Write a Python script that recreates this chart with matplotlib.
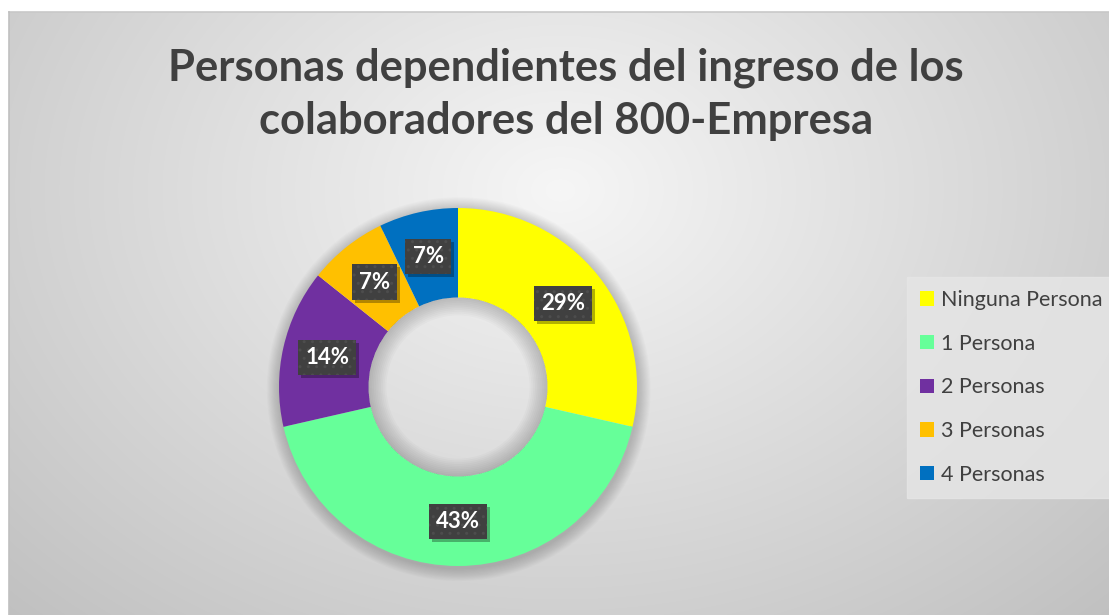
import numpy as np
import matplotlib
matplotlib.use("Agg")
import matplotlib.pyplot as plt
from matplotlib.patches import Wedge, Rectangle

# data
categorias = ["Ninguna Persona", "1 Persona", "2 Personas", "3 Personas", "4 Personas"]
personas = [4, 6, 2, 1, 1]
colores = ["#FFFF00", "#66FF99", "#7030A0", "#FFC000", "#0070C0"]
titulo = "Personas dependientes del ingreso de los\ncolaboradores del 800-Empresa"

W, H = 1109, 615
fig = plt.figure(figsize=(W / 100, H / 100), dpi=100)
fig.patch.set_facecolor("white")

# chart area with radial gray gradient
x0, y0 = 9, 12
bg = fig.add_axes([x0 / W, 0, 1 - x0 / W, 1 - y0 / H])
xx, yy = np.meshgrid(np.arange(x0, W), np.arange(y0, H))
d = np.sqrt(((xx - 560) / 560.0) ** 2 + ((yy - 190) / 420.0) ** 2)
v = (246 - 38 * d) / 255.0
img = np.dstack([v, v, v])
bg.imshow(img, aspect="auto", interpolation="bilinear")
bg.set_axis_off()
fig.add_artist(plt.Line2D([x0 / W, 1], [1 - y0 / H, 1 - y0 / H], color="#c8c8c8", lw=1.2))
fig.add_artist(plt.Line2D([x0 / W, x0 / W], [0, 1 - y0 / H], color="#c0c0c0", lw=1.2))

# title, scaled to the reference width
t = fig.text(566 / W, 1 - 94 / H, titulo, ha="center", va="center", family="Lato",
             fontweight="bold", color="#404040", fontsize=30, linespacing=1.4)
r = fig.canvas.get_renderer()
t.set_fontsize(30 * 795 / t.get_window_extent(r).width)

# donut
cx, cy, R = 458, 387, 179
lim = 1.12
ax = fig.add_axes([(cx - R * lim) / W, (H - cy - R * lim) / H, 2 * R * lim / W, 2 * R * lim / H])

ancho = 0.5
wedges, _ = ax.pie(personas, colors=colores, startangle=90, counterclock=False, radius=1,
                   wedgeprops=dict(width=ancho, linewidth=0))
ax.set_xlim(-lim, lim)
ax.set_ylim(-lim, lim)
ax.set_axis_off()

# soft shadow outside the ring
for k in range(12):
    ax.add_patch(Wedge((0.004, -0.012), 1 + 0.006 * (k + 1), 0, 360, width=0.006 * (k + 1) + 0.02,
                       color="black", alpha=0.016, lw=0, zorder=0))

# inner shadow in the hole
for k in range(10):
    ax.add_patch(Wedge((0, 0), 1 - ancho, 0, 360, width=0.01 * (k + 1), color="black",
                       alpha=0.018, lw=0, zorder=3))

total = sum(personas)
acum = 0
textos = []
for n in personas:
    mid = (acum + n / 2) / total
    ang = np.deg2rad(90 - 360 * mid)
    acum += n
    rr = 0.75
    etiqueta = "%d%%" % round(100 * n / total)
    textos.append(ax.text(rr * np.cos(ang), rr * np.sin(ang), etiqueta, ha="center", va="center",
                          color="white", fontsize=16, fontweight="bold", family="Lato", zorder=6,
                          bbox=dict(boxstyle="square,pad=0.32", facecolor="#404040",
                                    edgecolor="#4d4d4d", linewidth=0, hatch="..")))

# drop shadow under each label box
fig.canvas.draw()
inv = ax.transData.inverted()
for txt in textos:
    bb = txt.get_bbox_patch().get_window_extent(r)
    (a0, b0), (a1, b1) = inv.transform([(bb.x0 + 3, bb.y0 - 3), (bb.x1 + 3, bb.y1 - 3)])
    ax.add_patch(Rectangle((a0, b0), a1 - a0, b1 - b0, facecolor="black", alpha=0.3,
                           lw=0, zorder=5))

# legend
leg = fig.legend(wedges, categorias, loc="upper left", bbox_to_anchor=(907 / W, 1 - 277 / H),
                 frameon=True, fancybox=False, facecolor="#e6e6e6", edgecolor="#e6e6e6",
                 framealpha=0.8, prop=dict(family="Lato", size=15.5), labelcolor="#404040",
                 handlelength=0.65, handleheight=0.65, handletextpad=0.35, labelspacing=1.1,
                 borderpad=0.6, borderaxespad=0)

fig.savefig("out.png", dpi=100)
